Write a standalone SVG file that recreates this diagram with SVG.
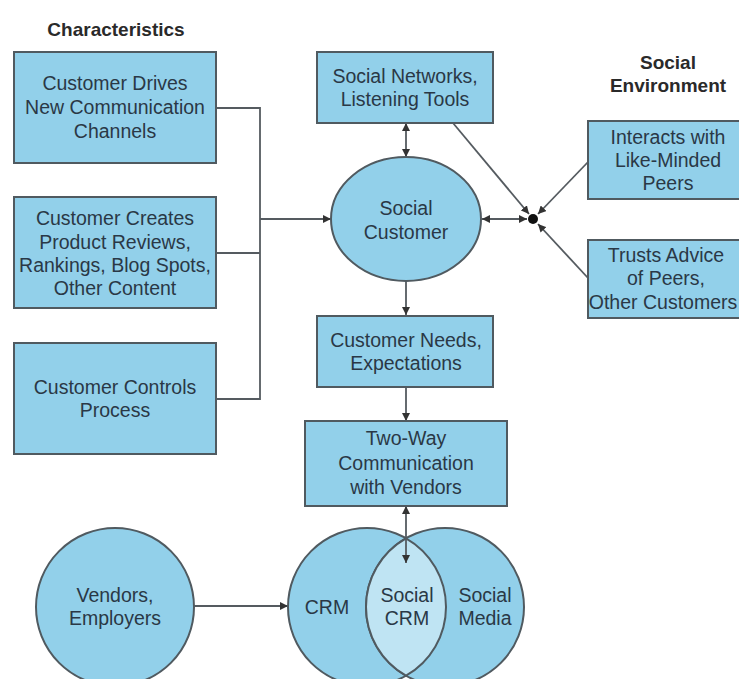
<svg xmlns="http://www.w3.org/2000/svg" width="739" height="679" viewBox="0 0 739 679">
<style>
.box{fill:#92d0ea;stroke:#505a60;stroke-width:2}
.lens{fill:#bfe4f3;stroke:#505a60;stroke-width:2}
.t{font-family:"Liberation Sans",Arial,sans-serif;font-size:19.5px;fill:#2a3846;text-anchor:middle}
.h{font-family:"Liberation Sans",Arial,sans-serif;font-size:19px;font-weight:bold;fill:#2a2a2a;text-anchor:middle}
.c{fill:none;stroke:#555b60;stroke-width:1.8}
</style>
<defs>
<marker id="ah" viewBox="0 0 10 10" refX="10" refY="5" markerWidth="8" markerHeight="8" markerUnits="userSpaceOnUse" orient="auto-start-reverse">
<path d="M0,0 L10,5 L0,10 z" fill="#333"/>
</marker>
</defs>
<rect width="739" height="679" fill="#fff"/>
<text class="h" x="116" y="36">Characteristics</text>
<text class="h" x="668" y="69">Social</text>
<text class="h" x="668" y="92">Environment</text>

<g id="connectors">
<polyline class="c" points="216,108 260,108 260,399 216,399"/>
<line class="c" x1="216" y1="253" x2="260" y2="253"/>
<line class="c" x1="260" y1="219" x2="331" y2="219" marker-end="url(#ah)"/>
<line class="c" x1="406" y1="123" x2="406" y2="157" marker-start="url(#ah)" marker-end="url(#ah)"/>
<line class="c" x1="406" y1="282" x2="406" y2="315" marker-end="url(#ah)"/>
<line class="c" x1="406" y1="387" x2="406" y2="421" marker-end="url(#ah)"/>
<line class="c" x1="406" y1="506" x2="406" y2="563" marker-start="url(#ah)" marker-end="url(#ah)"/>
<line class="c" x1="194" y1="606" x2="288" y2="606" marker-end="url(#ah)"/>
<line class="c" x1="482" y1="219" x2="527" y2="219" marker-start="url(#ah)" marker-end="url(#ah)"/>
<line class="c" x1="453" y1="123" x2="529" y2="214" marker-end="url(#ah)"/>
<line class="c" x1="588" y1="162" x2="538" y2="214" marker-end="url(#ah)"/>
<line class="c" x1="588" y1="278" x2="538" y2="224" marker-end="url(#ah)"/>
<circle cx="533" cy="219" r="5" fill="#111"/>
</g>

<g id="drives">
<rect class="box" x="14" y="52" width="202" height="111"/>
<text class="t" x="115" y="90">Customer Drives</text>
<text class="t" x="115" y="114">New Communication</text>
<text class="t" x="115" y="138">Channels</text>
</g>
<g id="creates">
<rect class="box" x="14" y="197" width="202" height="111"/>
<text class="t" x="115" y="225">Customer Creates</text>
<text class="t" x="115" y="249">Product Reviews,</text>
<text class="t" x="115" y="272">Rankings, Blog Spots,</text>
<text class="t" x="115" y="295">Other Content</text>
</g>
<g id="controls">
<rect class="box" x="14" y="343" width="202" height="111"/>
<text class="t" x="115" y="394">Customer Controls</text>
<text class="t" x="115" y="417">Process</text>
</g>
<g id="networks">
<rect class="box" x="317" y="52" width="176" height="71"/>
<text class="t" x="405" y="83">Social Networks,</text>
<text class="t" x="405" y="106">Listening Tools</text>
</g>
<g id="socialcustomer">
<ellipse class="box" cx="406" cy="219" rx="75" ry="62"/>
<text class="t" x="406" y="215">Social</text>
<text class="t" x="406" y="239">Customer</text>
</g>
<g id="interacts">
<rect class="box" x="588" y="121" width="160" height="78"/>
<text class="t" x="668" y="144">Interacts with</text>
<text class="t" x="668" y="167">Like-Minded</text>
<text class="t" x="668" y="190">Peers</text>
</g>
<g id="trusts">
<rect class="box" x="588" y="240" width="160" height="78"/>
<text class="t" x="666" y="262">Trusts Advice</text>
<text class="t" x="666" y="285">of Peers,</text>
<text class="t" x="663" y="309" font-size="19">Other Customers</text>
</g>
<g id="needs">
<rect class="box" x="317" y="316" width="176" height="71"/>
<text class="t" x="406" y="347">Customer Needs,</text>
<text class="t" x="406" y="370">Expectations</text>
</g>
<g id="twoway">
<rect class="box" x="305" y="421" width="202" height="85"/>
<text class="t" x="406" y="445">Two-Way</text>
<text class="t" x="406" y="470">Communication</text>
<text class="t" x="406" y="494">with Vendors</text>
</g>
<g id="vendors">
<circle class="box" cx="115" cy="607" r="79"/>
<text class="t" x="115" y="602">Vendors,</text>
<text class="t" x="115" y="625">Employers</text>
</g>
<g id="venn">
<circle class="box" cx="367" cy="607" r="79"/>
<circle class="box" cx="445" cy="607" r="79"/>
<path class="lens" d="M406,538.3 A79,79 0 0,1 406,675.7 A79,79 0 0,1 406,538.3 z"/>
<text class="t" x="327" y="614">CRM</text>
<text class="t" x="407" y="602">Social</text>
<text class="t" x="407" y="625">CRM</text>
<text class="t" x="485" y="602">Social</text>
<text class="t" x="485" y="625">Media</text>
</g>
<line class="c" x1="406" y1="538" x2="406" y2="563" marker-end="url(#ah)"/>
</svg>
